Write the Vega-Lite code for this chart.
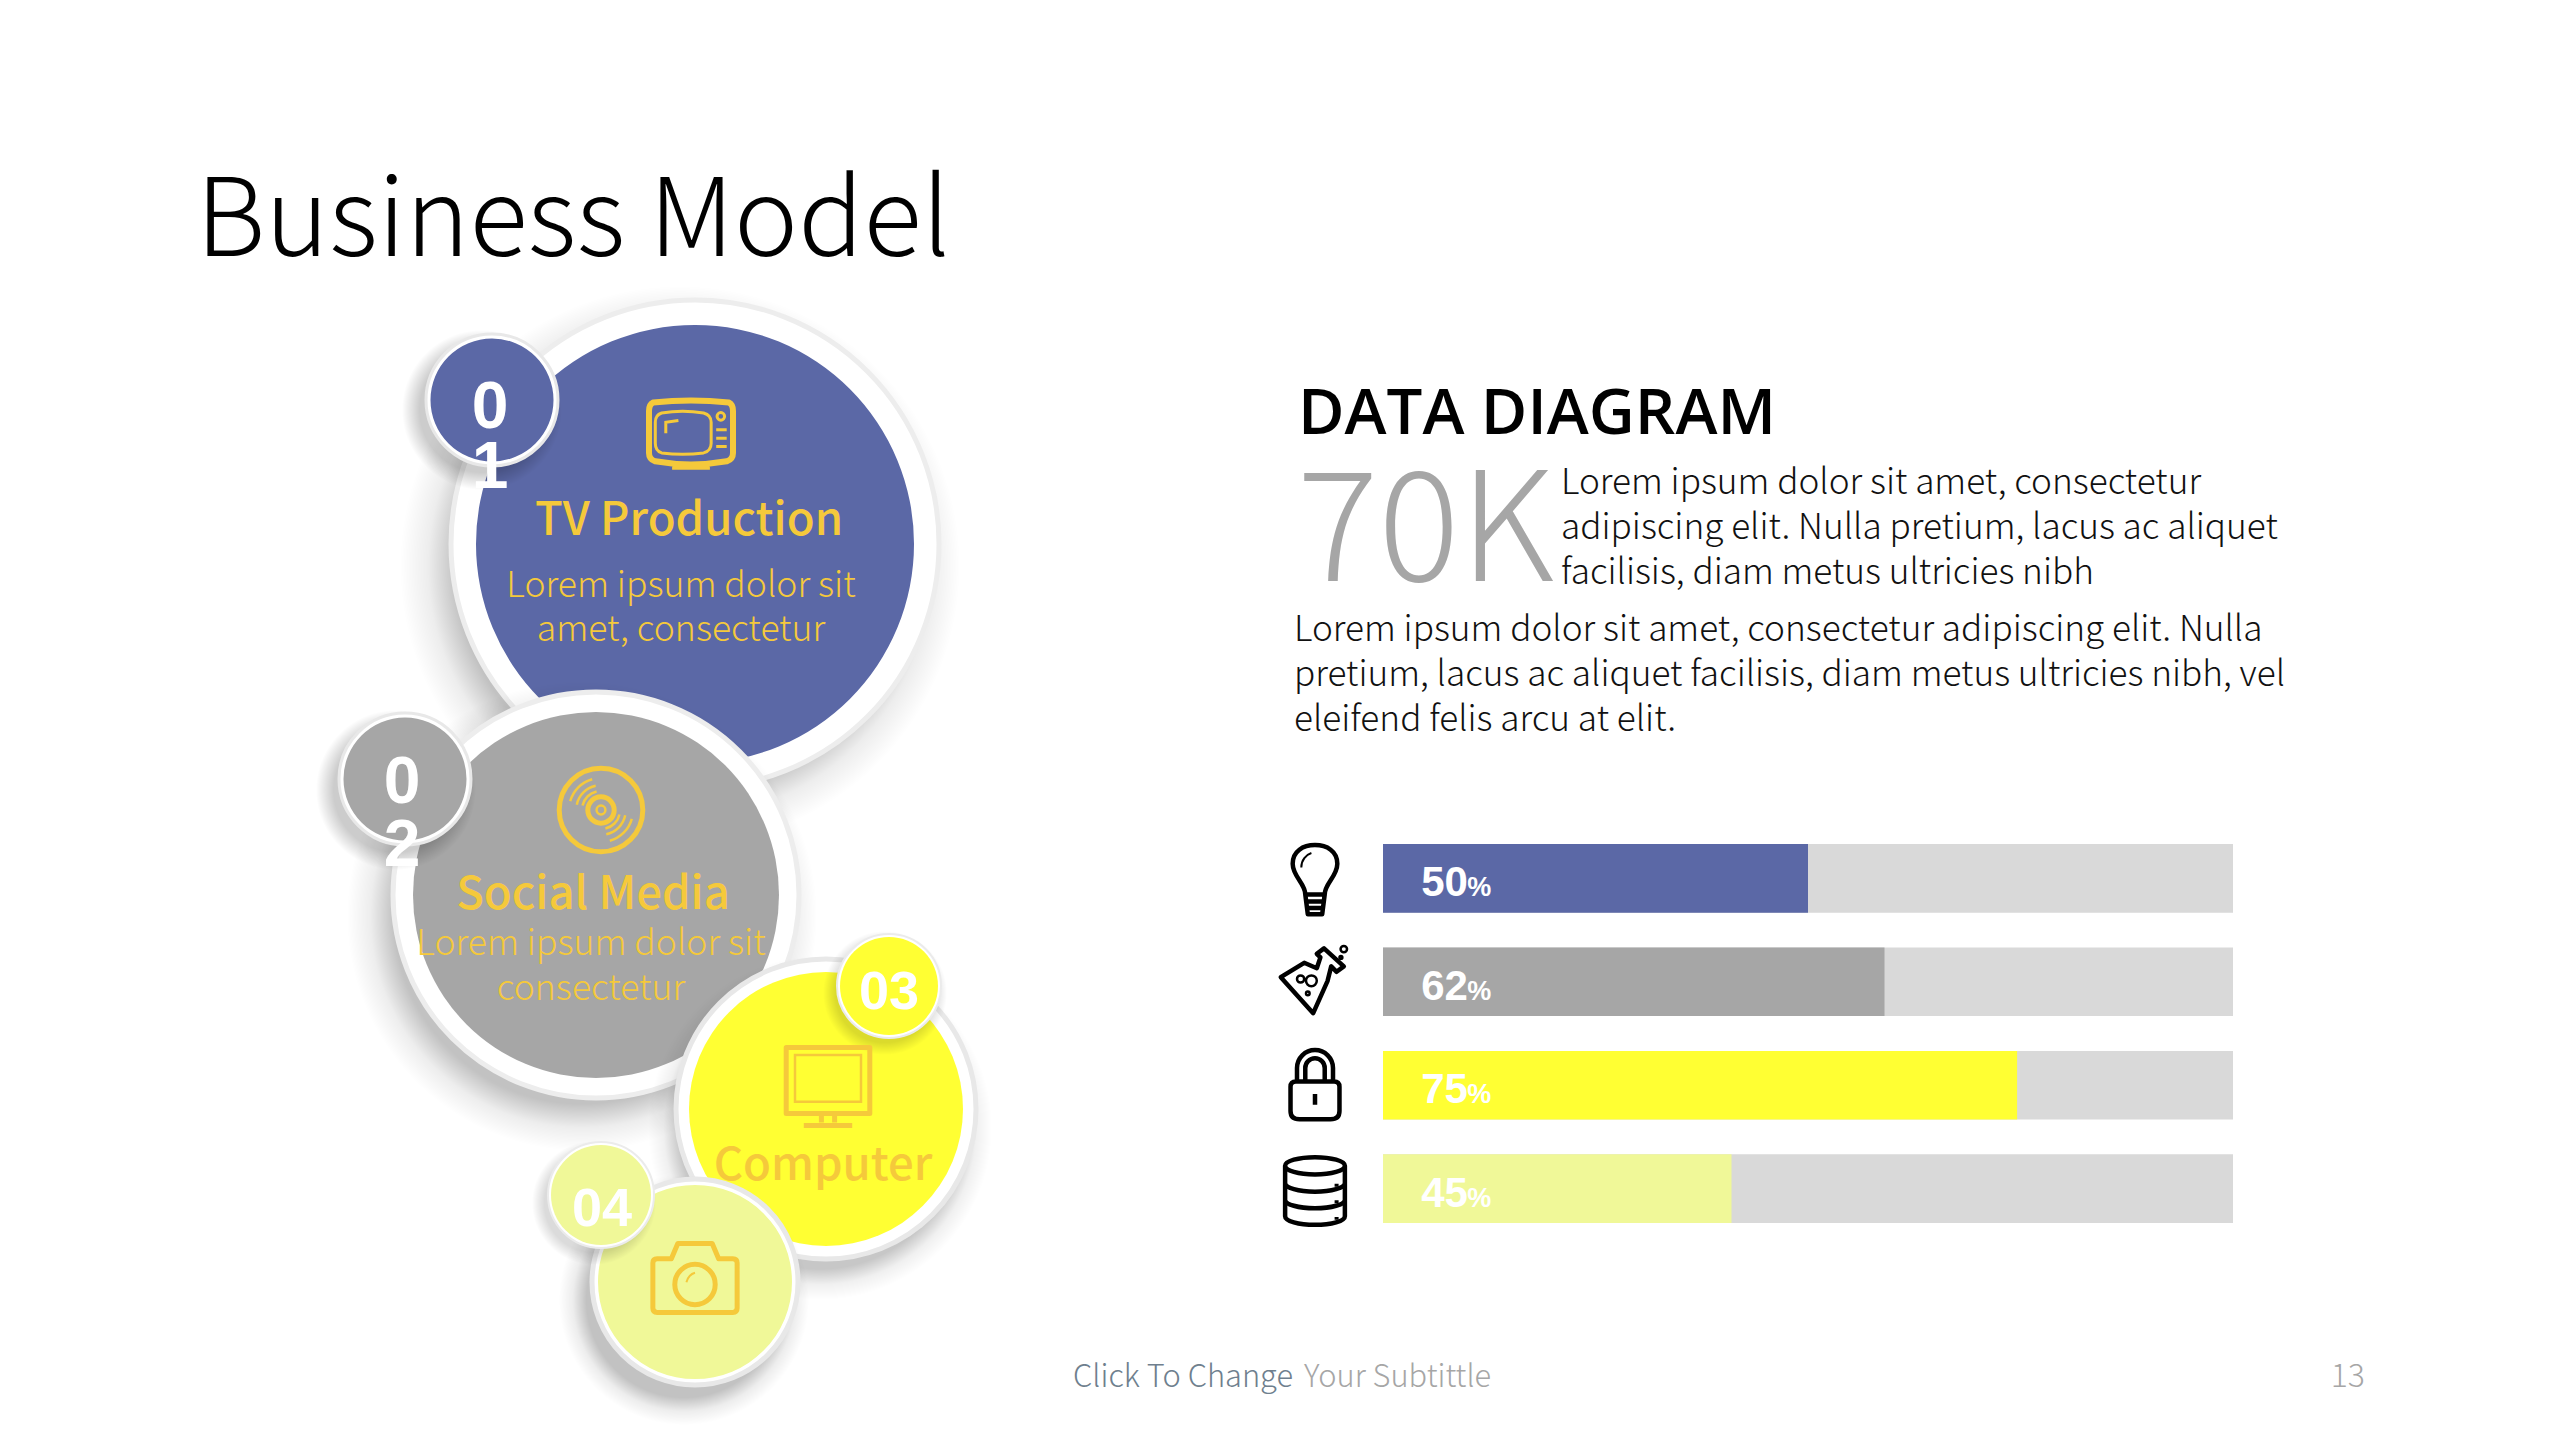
{
  "$schema": "https://vega.github.io/schema/vega-lite/v6.json",
  "width": 2560,
  "height": 1440,
  "autosize": {"type": "fit", "contains": "padding"},
  "padding": 0,
  "background": "#FFFFFF",
  "config": {
    "view": {"stroke": null},
    "point": {"opacity": 1, "filled": true, "strokeWidth": 0},
    "text": {"font": "Noto Sans CJK SC", "align": "left", "baseline": "alphabetic"}
  },
  "datasets": {
    "bubbles": [
      {"id": "s1", "x": 680, "y": 566},
      {"id": "d1", "x": 695, "y": 544},
      {"id": "bs1", "x": 482, "y": 410},
      {"id": "b1", "x": 492, "y": 400},
      {"id": "s2", "x": 582, "y": 916},
      {"id": "d2", "x": 596, "y": 895},
      {"id": "bs2", "x": 396, "y": 790},
      {"id": "b2", "x": 405, "y": 779},
      {"id": "s3", "x": 820, "y": 1128},
      {"id": "d3", "x": 826, "y": 1109},
      {"id": "bs3", "x": 885, "y": 993},
      {"id": "b3", "x": 889, "y": 986},
      {"id": "s4", "x": 684, "y": 1300},
      {"id": "d4", "x": 695, "y": 1282},
      {"id": "bs4", "x": 594, "y": 1203},
      {"id": "b4", "x": 601, "y": 1195}
    ],
    "icons": [
      {"id": "tv", "x": 691, "y": 434},
      {"id": "record", "x": 601, "y": 810},
      {"id": "monitor", "x": 828, "y": 1085},
      {"id": "camera", "x": 695, "y": 1278},
      {"id": "bulb", "x": 1315, "y": 880},
      {"id": "flask", "x": 1315, "y": 979},
      {"id": "lock", "x": 1315, "y": 1085},
      {"id": "database", "x": 1315, "y": 1191}
    ],
    "labels": [
      {"role": "title", "text": "Business Model", "x": 196, "y": 256},
      {"role": "heading", "text": "DATA DIAGRAM", "x": 1298, "y": 434},
      {"role": "big", "text": "70K", "x": 1297, "y": 581},
      {"role": "body", "text": "Lorem ipsum dolor sit amet, consectetur", "x": 1561, "y": 494},
      {"role": "body", "text": "adipiscing elit. Nulla pretium, lacus ac aliquet", "x": 1561, "y": 539},
      {"role": "body", "text": "facilisis, diam metus ultricies nibh", "x": 1561, "y": 584},
      {"role": "body", "text": "Lorem ipsum dolor sit amet, consectetur adipiscing elit. Nulla", "x": 1294, "y": 641},
      {"role": "body", "text": "pretium, lacus ac aliquet facilisis, diam metus ultricies nibh, vel", "x": 1294, "y": 686},
      {"role": "body", "text": "eleifend felis arcu at elit.", "x": 1294, "y": 731},
      {"role": "discHead", "text": "TV Production", "x": 689, "y": 535},
      {"role": "discBody", "text": "Lorem ipsum dolor sit", "x": 681, "y": 597},
      {"role": "discBody", "text": "amet, consectetur", "x": 681, "y": 641},
      {"role": "discHead", "text": "Social Media", "x": 593, "y": 909},
      {"role": "discBody", "text": "Lorem ipsum dolor sit", "x": 591, "y": 955},
      {"role": "discBody", "text": "consectetur", "x": 591, "y": 1000},
      {"role": "discHead", "text": "Computer", "x": 823, "y": 1180},
      {"role": "badgeWrap", "text": "0", "x": 490, "y": 428},
      {"role": "badgeWrap", "text": "1", "x": 490, "y": 488},
      {"role": "badgeWrap", "text": "0", "x": 402, "y": 803},
      {"role": "badgeWrap", "text": "2", "x": 402, "y": 866},
      {"role": "badge", "text": "03", "x": 889, "y": 1009},
      {"role": "badge", "text": "04", "x": 602, "y": 1226},
      {"role": "footDark", "text": "Click To Change", "x": 1073, "y": 1387},
      {"role": "footLight", "text": "Your Subtittle", "x": 1304, "y": 1387},
      {"role": "page", "text": "13", "x": 2365, "y": 1387}
    ],
    "bars": [
      {"item": "idea", "share": 50, "full": 100, "digits": "50"},
      {"item": "lab", "share": 59, "full": 100, "digits": "62"},
      {"item": "security", "share": 74.6, "full": 100, "digits": "75"},
      {"item": "storage", "share": 41, "full": 100, "digits": "45"}
    ]
  },
  "resolve": {"scale": {"x": "independent", "y": "independent"}},
  "layer": [
    {
      "encoding": {
        "x": {"field": "x", "type": "quantitative", "axis": null, "scale": {"domain": [0, 2560], "nice": false, "zero": false}},
        "y": {"field": "y", "type": "quantitative", "axis": null, "scale": {"domain": [0, 1440], "nice": false, "zero": false, "reverse": true}}
      },
      "layer": [
        {"data": {"name": "bubbles"}, "transform": [{"filter": "datum.id == 's1'"}], "mark": {"type": "point", "shape": "circle", "size": 313600, "fill": {"gradient": "radial", "x1": 0.5, "y1": 0.5, "r1": 0, "x2": 0.5, "y2": 0.5, "r2": 0.5, "stops": [{"offset": 0.8, "color": "rgba(0,0,0,0.24)"}, {"offset": 0.9, "color": "rgba(0,0,0,0.07)"}, {"offset": 1, "color": "rgba(0,0,0,0)"}]}}},
        {"data": {"name": "bubbles"}, "transform": [{"filter": "datum.id == 'd1'"}], "mark": {"type": "point", "shape": "circle", "size": 238144, "fill": "#FFFFFF", "stroke": "#EDEDED", "strokeWidth": 5}},
        {"data": {"name": "bubbles"}, "transform": [{"filter": "datum.id == 'd1'"}], "mark": {"type": "point", "shape": "circle", "size": 191844, "fill": "#5B68A6"}},
        {"data": {"name": "bubbles"}, "transform": [{"filter": "datum.id == 'bs1'"}], "mark": {"type": "point", "shape": "circle", "size": 25600, "fill": {"gradient": "radial", "x1": 0.5, "y1": 0.5, "r1": 0, "x2": 0.5, "y2": 0.5, "r2": 0.5, "stops": [{"offset": 0.78, "color": "rgba(0,0,0,0.2)"}, {"offset": 1, "color": "rgba(0,0,0,0)"}]}}},
        {"data": {"name": "bubbles"}, "transform": [{"filter": "datum.id == 'b1'"}], "mark": {"type": "point", "shape": "circle", "size": 17424, "fill": "#FFFFFF", "stroke": "#E8E8E8", "strokeWidth": 3}},
        {"data": {"name": "bubbles"}, "transform": [{"filter": "datum.id == 'b1'"}], "mark": {"type": "point", "shape": "circle", "size": 15129, "fill": "#5B68A6"}},
        {"data": {"name": "bubbles"}, "transform": [{"filter": "datum.id == 's2'"}], "mark": {"type": "point", "shape": "circle", "size": 220900, "fill": {"gradient": "radial", "x1": 0.5, "y1": 0.5, "r1": 0, "x2": 0.5, "y2": 0.5, "r2": 0.5, "stops": [{"offset": 0.8, "color": "rgba(0,0,0,0.24)"}, {"offset": 0.9, "color": "rgba(0,0,0,0.07)"}, {"offset": 1, "color": "rgba(0,0,0,0)"}]}}},
        {"data": {"name": "bubbles"}, "transform": [{"filter": "datum.id == 'd2'"}], "mark": {"type": "point", "shape": "circle", "size": 164836, "fill": "#FFFFFF", "stroke": "#EDEDED", "strokeWidth": 5}},
        {"data": {"name": "bubbles"}, "transform": [{"filter": "datum.id == 'd2'"}], "mark": {"type": "point", "shape": "circle", "size": 133956, "fill": "#A6A6A6"}},
        {"data": {"name": "bubbles"}, "transform": [{"filter": "datum.id == 'bs2'"}], "mark": {"type": "point", "shape": "circle", "size": 25600, "fill": {"gradient": "radial", "x1": 0.5, "y1": 0.5, "r1": 0, "x2": 0.5, "y2": 0.5, "r2": 0.5, "stops": [{"offset": 0.78, "color": "rgba(0,0,0,0.2)"}, {"offset": 1, "color": "rgba(0,0,0,0)"}]}}},
        {"data": {"name": "bubbles"}, "transform": [{"filter": "datum.id == 'b2'"}], "mark": {"type": "point", "shape": "circle", "size": 17424, "fill": "#FFFFFF", "stroke": "#E8E8E8", "strokeWidth": 3}},
        {"data": {"name": "bubbles"}, "transform": [{"filter": "datum.id == 'b2'"}], "mark": {"type": "point", "shape": "circle", "size": 15129, "fill": "#A6A6A6"}},
        {"data": {"name": "bubbles"}, "transform": [{"filter": "datum.id == 's3'"}], "mark": {"type": "point", "shape": "circle", "size": 118336, "fill": {"gradient": "radial", "x1": 0.5, "y1": 0.5, "r1": 0, "x2": 0.5, "y2": 0.5, "r2": 0.5, "stops": [{"offset": 0.82, "color": "rgba(0,0,0,0.22)"}, {"offset": 0.91, "color": "rgba(0,0,0,0.06)"}, {"offset": 1, "color": "rgba(0,0,0,0)"}]}}},
        {"data": {"name": "bubbles"}, "transform": [{"filter": "datum.id == 'd3'"}], "mark": {"type": "point", "shape": "circle", "size": 90000, "fill": "#FFFFFF", "stroke": "#E8E8E8", "strokeWidth": 5}},
        {"data": {"name": "bubbles"}, "transform": [{"filter": "datum.id == 'd3'"}], "mark": {"type": "point", "shape": "circle", "size": 75076, "fill": "#FFFF33"}},
        {"data": {"name": "bubbles"}, "transform": [{"filter": "datum.id == 'bs3'"}], "mark": {"type": "point", "shape": "circle", "size": 15376, "fill": {"gradient": "radial", "x1": 0.5, "y1": 0.5, "r1": 0, "x2": 0.5, "y2": 0.5, "r2": 0.5, "stops": [{"offset": 0.8, "color": "rgba(0,0,0,0.14)"}, {"offset": 1, "color": "rgba(0,0,0,0)"}]}}},
        {"data": {"name": "bubbles"}, "transform": [{"filter": "datum.id == 'b3'"}], "mark": {"type": "point", "shape": "circle", "size": 10816, "fill": "#FFFFFF", "stroke": "#EBEBEB", "strokeWidth": 2}},
        {"data": {"name": "bubbles"}, "transform": [{"filter": "datum.id == 'b3'"}], "mark": {"type": "point", "shape": "circle", "size": 9604, "fill": "#FFFF33"}},
        {"data": {"name": "bubbles"}, "transform": [{"filter": "datum.id == 's4'"}], "mark": {"type": "point", "shape": "circle", "size": 62500, "fill": {"gradient": "radial", "x1": 0.5, "y1": 0.5, "r1": 0, "x2": 0.5, "y2": 0.5, "r2": 0.5, "stops": [{"offset": 0.78, "color": "rgba(0,0,0,0.24)"}, {"offset": 0.89, "color": "rgba(0,0,0,0.07)"}, {"offset": 1, "color": "rgba(0,0,0,0)"}]}}},
        {"data": {"name": "bubbles"}, "transform": [{"filter": "datum.id == 'd4'"}], "mark": {"type": "point", "shape": "circle", "size": 42436, "fill": "#FFFFFF", "stroke": "#E8E8E8", "strokeWidth": 5}},
        {"data": {"name": "bubbles"}, "transform": [{"filter": "datum.id == 'd4'"}], "mark": {"type": "point", "shape": "circle", "size": 37636, "fill": "#F0F898"}},
        {"data": {"name": "bubbles"}, "transform": [{"filter": "datum.id == 'bs4'"}], "mark": {"type": "point", "shape": "circle", "size": 15376, "fill": {"gradient": "radial", "x1": 0.5, "y1": 0.5, "r1": 0, "x2": 0.5, "y2": 0.5, "r2": 0.5, "stops": [{"offset": 0.8, "color": "rgba(0,0,0,0.14)"}, {"offset": 1, "color": "rgba(0,0,0,0)"}]}}},
        {"data": {"name": "bubbles"}, "transform": [{"filter": "datum.id == 'b4'"}], "mark": {"type": "point", "shape": "circle", "size": 11236, "fill": "#FFFFFF", "stroke": "#EBEBEB", "strokeWidth": 2}},
        {"data": {"name": "bubbles"}, "transform": [{"filter": "datum.id == 'b4'"}], "mark": {"type": "point", "shape": "circle", "size": 10000, "fill": "#F0F898"}},

        {"data": {"name": "icons"}, "transform": [{"filter": "datum.id == 'tv'"}], "mark": {"type": "point", "filled": false, "size": 7056, "stroke": "#F5C93B", "strokeWidth": 6, "strokeJoin": "round", "shape": "M-0.9,-0.75 Q0,-0.85 0.9,-0.75 Q1,-0.7 1,-0.55 L1,0.45 Q1,0.6 0.85,0.65 Q0,0.8 -0.85,0.65 Q-1,0.6 -1,0.45 L-1,-0.55 Q-1,-0.7 -0.9,-0.75 Z M-0.45,0.78 L0.45,0.78"}},
        {"data": {"name": "icons"}, "transform": [{"filter": "datum.id == 'tv'"}], "mark": {"type": "point", "filled": false, "size": 7056, "stroke": "#F5C93B", "strokeWidth": 3, "shape": "M-0.7,-0.5 Q-0.2,-0.58 0.3,-0.5 Q0.48,-0.45 0.48,-0.28 L0.48,0.22 Q0.48,0.4 0.3,0.45 Q-0.2,0.52 -0.7,0.45 Q-0.85,0.4 -0.85,0.22 L-0.85,-0.28 Q-0.85,-0.45 -0.7,-0.5 Z M-0.6,-0.02 L-0.6,-0.28 L-0.3,-0.32 M0.62,-0.42 A0.09,0.09 0 1 1 0.8,-0.42 A0.09,0.09 0 1 1 0.62,-0.42 Z M0.6,-0.1 L0.85,-0.1 M0.6,0.1 L0.85,0.1 M0.6,0.3 L0.85,0.3"}},
        {"data": {"name": "icons"}, "transform": [{"filter": "datum.id == 'record'"}], "mark": {"type": "point", "filled": false, "size": 7744, "stroke": "#F5C93B", "strokeWidth": 5, "shape": "M-0.95,0 A0.95,0.95 0 1 1 0.95,0 A0.95,0.95 0 1 1 -0.95,0 Z M-0.3,0 A0.3,0.3 0 1 1 0.3,0 A0.3,0.3 0 1 1 -0.3,0 Z"}},
        {"data": {"name": "icons"}, "transform": [{"filter": "datum.id == 'record'"}], "mark": {"type": "point", "filled": false, "size": 7744, "stroke": "#F5C93B", "strokeWidth": 2.5, "shape": "M-0.1,0 A0.1,0.1 0 1 1 0.1,0 A0.1,0.1 0 1 1 -0.1,0 Z M-0.7,-0.2 A0.72,0.72 0 0 1 -0.2,-0.7 M-0.55,-0.12 A0.55,0.55 0 0 1 -0.12,-0.55 M-0.42,-0.1 A0.42,0.42 0 0 1 -0.1,-0.42 M0.7,0.2 A0.72,0.72 0 0 1 0.2,0.7 M0.55,0.12 A0.55,0.55 0 0 1 0.12,0.55 M0.42,0.1 A0.42,0.42 0 0 1 0.1,0.42"}},
        {"data": {"name": "icons"}, "transform": [{"filter": "datum.id == 'monitor'"}], "mark": {"type": "point", "filled": false, "size": 7744, "stroke": "#F5C93B", "strokeWidth": 5, "strokeJoin": "round", "shape": "M-0.95,-0.85 L0.95,-0.85 L0.95,0.65 L-0.95,0.65 Z M-0.15,0.65 L-0.15,0.85 M0.15,0.65 L0.15,0.85 M-0.55,0.92 L0.55,0.92"}},
        {"data": {"name": "icons"}, "transform": [{"filter": "datum.id == 'monitor'"}], "mark": {"type": "point", "filled": false, "size": 7744, "stroke": "#F5C93B", "strokeWidth": 2.5, "shape": "M-0.75,-0.68 L0.75,-0.68 L0.75,0.38 L-0.75,0.38 Z"}},
        {"data": {"name": "icons"}, "transform": [{"filter": "datum.id == 'camera'"}], "mark": {"type": "point", "filled": false, "size": 7396, "stroke": "#F5C93B", "strokeWidth": 5, "strokeJoin": "round", "shape": "M-0.88,-0.45 L-0.55,-0.45 L-0.4,-0.8 L0.4,-0.8 L0.55,-0.45 L0.88,-0.45 Q0.98,-0.45 0.98,-0.35 L0.98,0.7 Q0.98,0.8 0.88,0.8 L-0.88,0.8 Q-0.98,0.8 -0.98,0.7 L-0.98,-0.35 Q-0.98,-0.45 -0.88,-0.45 Z M-0.47,0.15 A0.47,0.47 0 1 1 0.47,0.15 A0.47,0.47 0 1 1 -0.47,0.15 Z"}},
        {"data": {"name": "icons"}, "transform": [{"filter": "datum.id == 'camera'"}], "mark": {"type": "point", "filled": false, "size": 7396, "stroke": "#F5C93B", "strokeWidth": 2, "shape": "M-0.2,0.1 Q-0.15,-0.08 0,-0.12"}},
        {"data": {"name": "icons"}, "transform": [{"filter": "datum.id == 'bulb'"}], "mark": {"type": "point", "filled": false, "size": 5184, "stroke": "#000000", "strokeWidth": 4.5, "strokeJoin": "round", "shape": "M-0.27,0.4 C-0.27,0.1 -0.62,-0.1 -0.62,-0.45 C-0.62,-0.8 -0.33,-0.97 0,-0.97 C0.33,-0.97 0.62,-0.8 0.62,-0.45 C0.62,-0.1 0.27,0.1 0.27,0.4 Z M-0.27,0.4 L-0.2,0.95 L0.2,0.95 L0.27,0.4 M-0.25,0.6 L0.25,0.6 M-0.22,0.78 L0.22,0.78"}},
        {"data": {"name": "icons"}, "transform": [{"filter": "datum.id == 'bulb'"}], "mark": {"type": "point", "filled": false, "size": 5184, "stroke": "#000000", "strokeWidth": 2, "shape": "M-0.38,-0.35 C-0.38,-0.55 -0.25,-0.7 -0.1,-0.75"}},
        {"data": {"name": "icons"}, "transform": [{"filter": "datum.id == 'flask'"}], "mark": {"type": "point", "filled": false, "size": 5184, "stroke": "#000000", "strokeWidth": 4.5, "strokeJoin": "round", "shape": "M-0.05,0.95 L-0.95,-0.05 L-0.3,-0.45 L0.05,-0.3 L0.15,-0.6 L0.05,-0.7 L0.25,-0.85 L0.8,-0.35 L0.6,-0.2 L0.45,-0.35 L0.35,0.05 Z"}},
        {"data": {"name": "icons"}, "transform": [{"filter": "datum.id == 'flask'"}], "mark": {"type": "point", "filled": false, "size": 5184, "stroke": "#000000", "strokeWidth": 2.5, "shape": "M-0.5,0 A0.1,0.1 0 1 1 -0.3,0 A0.1,0.1 0 1 1 -0.5,0 Z M-0.25,0.05 A0.15,0.15 0 1 1 0.05,0.05 A0.15,0.15 0 1 1 -0.25,0.05 Z M-0.25,0.4 A0.05,0.05 0 1 1 -0.15,0.4 A0.05,0.05 0 1 1 -0.25,0.4 Z M0.71,-0.83 A0.09,0.09 0 1 1 0.89,-0.83 A0.09,0.09 0 1 1 0.71,-0.83 Z M0.68,-0.6 A0.04,0.04 0 1 1 0.76,-0.6 A0.04,0.04 0 1 1 0.68,-0.6 Z"}},
        {"data": {"name": "icons"}, "transform": [{"filter": "datum.id == 'lock'"}], "mark": {"type": "point", "filled": false, "size": 5184, "stroke": "#000000", "strokeWidth": 4.5, "strokeJoin": "round", "shape": "M-0.68,0.05 Q-0.68,-0.1 -0.53,-0.1 L0.53,-0.1 Q0.68,-0.1 0.68,0.05 L0.68,0.72 Q0.68,0.95 0.43,0.95 L-0.43,0.95 Q-0.68,0.95 -0.68,0.72 Z M-0.5,-0.1 L-0.5,-0.47 A0.5,0.5 0 0 1 0.5,-0.47 L0.5,-0.1 M-0.27,-0.1 L-0.27,-0.47 A0.27,0.27 0 0 1 0.27,-0.47 L0.27,-0.1 M0,0.25 L0,0.55"}},
        {"data": {"name": "icons"}, "transform": [{"filter": "datum.id == 'database'"}], "mark": {"type": "point", "filled": false, "size": 5184, "stroke": "#000000", "strokeWidth": 4.5, "strokeJoin": "round", "shape": "M-0.83,-0.7 A0.83,0.24 0 1 1 0.83,-0.7 A0.83,0.24 0 1 1 -0.83,-0.7 Z M-0.83,-0.7 L-0.83,0.7 A0.83,0.24 0 0 0 0.83,0.7 L0.83,-0.7 M-0.83,-0.22 A0.83,0.24 0 0 0 0.83,-0.22 M-0.83,0.24 A0.83,0.24 0 0 0 0.83,0.24"}},
        {"data": {"name": "icons"}, "transform": [{"filter": "datum.id == 'database'"}], "mark": {"type": "point", "filled": false, "size": 5184, "stroke": "#000000", "strokeWidth": 4, "shape": "M0.6,-0.2 L0.6,-0.12 M0.6,0.26 L0.6,0.34 M0.6,0.72 L0.6,0.8"}},

        {"data": {"name": "labels"}, "transform": [{"filter": "datum.role == 'title'"}], "mark": {"type": "text", "fontSize": 108, "fontWeight": 300, "color": "#000000"}, "encoding": {"text": {"field": "text"}}},
        {"data": {"name": "labels"}, "transform": [{"filter": "datum.role == 'heading'"}], "mark": {"type": "text", "font": "Open Sans", "fontSize": 63.5, "fontWeight": 600, "color": "#000000"}, "encoding": {"text": {"field": "text"}}},
        {"data": {"name": "labels"}, "transform": [{"filter": "datum.role == 'big'"}], "mark": {"type": "text", "fontSize": 152, "fontWeight": 300, "color": "#A6A6A6"}, "encoding": {"text": {"field": "text"}}},
        {"data": {"name": "labels"}, "transform": [{"filter": "datum.role == 'body'"}], "mark": {"type": "text", "fontSize": 35.2, "fontWeight": 300, "color": "#111111"}, "encoding": {"text": {"field": "text"}}},
        {"data": {"name": "labels"}, "transform": [{"filter": "datum.role == 'discHead'"}], "mark": {"type": "text", "fontSize": 45.5, "fontWeight": 500, "align": "center", "color": "#F5C93B"}, "encoding": {"text": {"field": "text"}}},
        {"data": {"name": "labels"}, "transform": [{"filter": "datum.role == 'discBody'"}], "mark": {"type": "text", "fontSize": 35.5, "fontWeight": 300, "align": "center", "color": "#F5C93B"}, "encoding": {"text": {"field": "text"}}},
        {"data": {"name": "labels"}, "transform": [{"filter": "datum.role == 'badgeWrap'"}], "mark": {"type": "text", "font": "Liberation Sans", "fontSize": 66, "fontWeight": "bold", "align": "center", "color": "#FFFFFF"}, "encoding": {"text": {"field": "text"}}},
        {"data": {"name": "labels"}, "transform": [{"filter": "datum.role == 'badge'"}], "mark": {"type": "text", "font": "Liberation Sans", "fontSize": 54, "fontWeight": "bold", "align": "center", "color": "#FFFFFF"}, "encoding": {"text": {"field": "text"}}},
        {"data": {"name": "labels"}, "transform": [{"filter": "datum.role == 'footDark'"}], "mark": {"type": "text", "fontSize": 30.8, "fontWeight": 300, "color": "#6F7F8E"}, "encoding": {"text": {"field": "text"}}},
        {"data": {"name": "labels"}, "transform": [{"filter": "datum.role == 'footLight'"}], "mark": {"type": "text", "fontSize": 30.8, "fontWeight": 300, "color": "#A6A6A6"}, "encoding": {"text": {"field": "text"}}},
        {"data": {"name": "labels"}, "transform": [{"filter": "datum.role == 'page'"}], "mark": {"type": "text", "fontSize": 32, "fontWeight": 300, "align": "right", "color": "#A6A6A6"}, "encoding": {"text": {"field": "text"}}}
      ]
    },
    {
      "data": {"name": "bars"},
      "encoding": {
        "y": {"field": "item", "type": "nominal", "axis": null, "sort": null, "scale": {"domain": ["idea", "lab", "security", "storage"], "range": [844, 1223], "paddingInner": 0.3365, "paddingOuter": 0}}
      },
      "layer": [
        {
          "mark": {"type": "bar", "color": "#D9D9D9"},
          "encoding": {"x": {"field": "full", "type": "quantitative", "axis": null, "scale": {"domain": [0, 100], "range": [1383, 2233]}}}
        },
        {
          "mark": "bar",
          "encoding": {
            "x": {"field": "share", "type": "quantitative", "axis": null, "scale": {"domain": [0, 100], "range": [1383, 2233]}},
            "color": {"field": "item", "type": "nominal", "legend": null, "scale": {"domain": ["idea", "lab", "security", "storage"], "range": ["#5B68A6", "#A6A6A6", "#FFFF33", "#F0F898"]}}
          }
        },
        {
          "mark": {"type": "text", "font": "Liberation Sans", "fontSize": 42, "fontWeight": "bold", "color": "#FFFFFF", "dy": 18},
          "encoding": {"x": {"datum": 4.5, "type": "quantitative", "axis": null, "scale": {"domain": [0, 100], "range": [1383, 2233]}}, "text": {"field": "digits"}}
        },
        {
          "mark": {"type": "text", "font": "Liberation Sans", "fontSize": 27, "fontWeight": "bold", "color": "#FFFFFF", "dx": 46, "dy": 18, "text": "%"},
          "encoding": {"x": {"datum": 4.5, "type": "quantitative", "axis": null, "scale": {"domain": [0, 100], "range": [1383, 2233]}}}
        }
      ]
    }
  ]
}
